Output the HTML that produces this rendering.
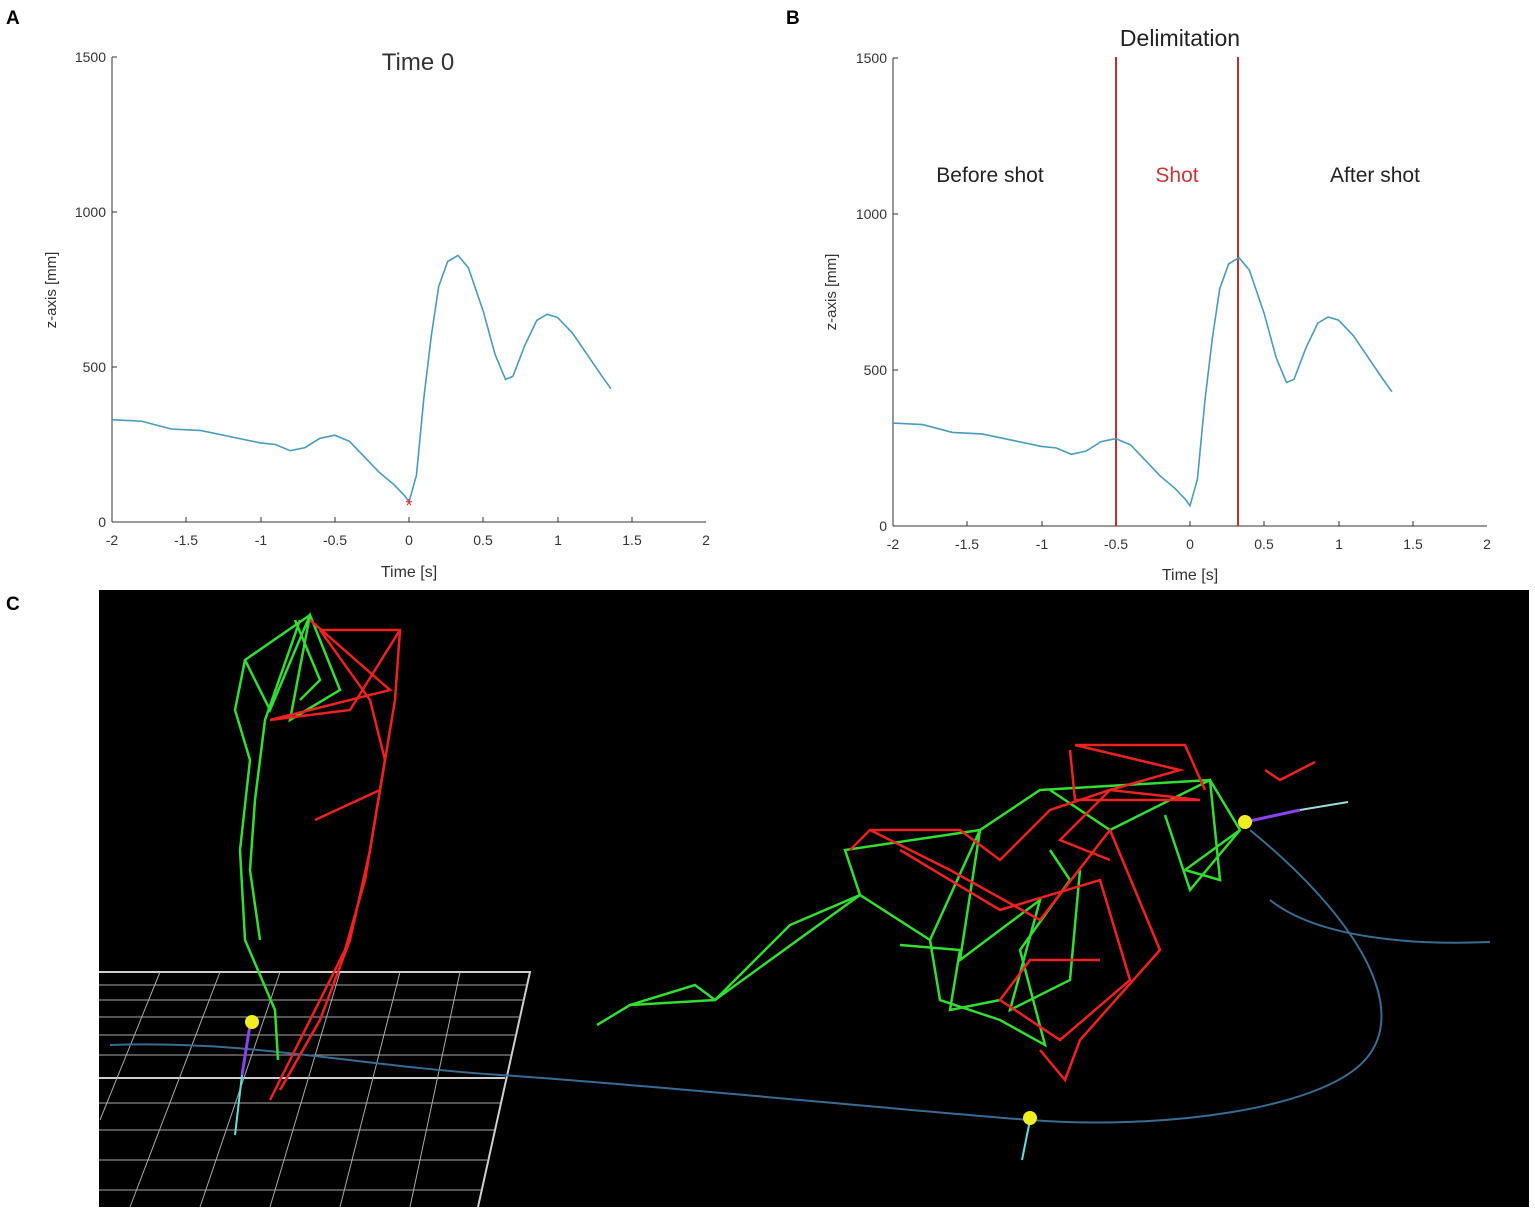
<!DOCTYPE html>
<html><head><meta charset="utf-8"><style>
html,body{margin:0;padding:0;background:#fff;}
svg{display:block;font-family:"Liberation Sans",sans-serif;}
</style></head><body>
<svg width="1535" height="1211" viewBox="0 0 1535 1211">
<rect width="1535" height="1211" fill="#fff"/>
<text x="6" y="24" font-size="19" font-weight="bold">A</text>
<text x="786" y="24" font-size="19" font-weight="bold">B</text>
<text x="6" y="610" font-size="19" font-weight="bold">C</text>

<!-- Panel A -->
<g stroke="#333" stroke-width="1" fill="none">
<line x1="112" y1="57" x2="112" y2="522"/><line x1="112" y1="522" x2="706" y2="522"/>
</g>
<g stroke="#333" stroke-width="1">
<line x1="112" y1="57" x2="117" y2="57"/><line x1="112" y1="212" x2="117" y2="212"/><line x1="112" y1="367" x2="117" y2="367"/>
<line x1="186" y1="522" x2="186" y2="517"/><line x1="261" y1="522" x2="261" y2="517"/><line x1="335" y1="522" x2="335" y2="517"/><line x1="409" y1="522" x2="409" y2="517"/><line x1="483" y1="522" x2="483" y2="517"/><line x1="558" y1="522" x2="558" y2="517"/><line x1="632" y1="522" x2="632" y2="517"/>
</g>
<g font-size="14" fill="#333" text-anchor="end">
<text x="106" y="62">1500</text><text x="106" y="217">1000</text><text x="106" y="372">500</text><text x="106" y="527">0</text>
</g>
<g font-size="14" fill="#333" text-anchor="middle">
<text x="112" y="545">-2</text><text x="186" y="545">-1.5</text><text x="261" y="545">-1</text><text x="335" y="545">-0.5</text><text x="409" y="545">0</text><text x="483" y="545">0.5</text><text x="558" y="545">1</text><text x="632" y="545">1.5</text><text x="706" y="545">2</text>
<text x="409" y="577" font-size="16">Time [s]</text>
<text x="418" y="70" font-size="24">Time 0</text>
</g>
<text transform="translate(56,290) rotate(-90)" font-size="15" fill="#333" text-anchor="middle">z-axis [mm]</text>
<g transform="translate(409,522) scale(148.5,-0.31)">
<polyline fill="none" stroke="#4a9ab8" stroke-width="1.6" vector-effect="non-scaling-stroke" points="-2,330 -1.8,325 -1.6,300 -1.4,295 -1.2,275 -1.0,255 -0.9,250 -0.8,230 -0.7,240 -0.6,270 -0.5,280 -0.4,260 -0.3,210 -0.2,160 -0.1,120 -0.03,85 0,65 0.05,150 0.1,400 0.15,600 0.2,760 0.26,840 0.33,860 0.4,820 0.5,680 0.58,540 0.65,460 0.7,470 0.78,570 0.86,650 0.93,670 1.0,660 1.1,610 1.2,540 1.3,470 1.36,430"/>
</g>
<text x="409" y="512" fill="#e03030" font-size="18" text-anchor="middle">*</text>

<!-- Panel B -->
<g stroke="#333" stroke-width="1" fill="none">
<line x1="893" y1="58" x2="893" y2="526"/><line x1="893" y1="526" x2="1487" y2="526"/>
</g>
<g stroke="#333" stroke-width="1">
<line x1="893" y1="58" x2="898" y2="58"/><line x1="893" y1="214" x2="898" y2="214"/><line x1="893" y1="370" x2="898" y2="370"/>
<line x1="967" y1="526" x2="967" y2="521"/><line x1="1042" y1="526" x2="1042" y2="521"/><line x1="1116" y1="526" x2="1116" y2="521"/><line x1="1190" y1="526" x2="1190" y2="521"/><line x1="1264" y1="526" x2="1264" y2="521"/><line x1="1339" y1="526" x2="1339" y2="521"/><line x1="1413" y1="526" x2="1413" y2="521"/>
</g>
<g font-size="14" fill="#333" text-anchor="end">
<text x="887" y="63">1500</text><text x="887" y="219">1000</text><text x="887" y="375">500</text><text x="887" y="531">0</text>
</g>
<g font-size="14" fill="#333" text-anchor="middle">
<text x="893" y="549">-2</text><text x="967" y="549">-1.5</text><text x="1042" y="549">-1</text><text x="1116" y="549">-0.5</text><text x="1190" y="549">0</text><text x="1264" y="549">0.5</text><text x="1339" y="549">1</text><text x="1413" y="549">1.5</text><text x="1487" y="549">2</text>
<text x="1190" y="580" font-size="16">Time [s]</text>
<text x="1180" y="46" font-size="23" fill="#222">Delimitation</text>
<text x="990" y="182" font-size="21" fill="#222">Before shot</text>
<text x="1177" y="182" font-size="21" fill="#c0393b">Shot</text>
<text x="1375" y="182" font-size="21" fill="#222">After shot</text>
</g>
<text transform="translate(836,292) rotate(-90)" font-size="15" fill="#333" text-anchor="middle">z-axis [mm]</text>
<line x1="1116" y1="57" x2="1116" y2="526" stroke="#c03030" stroke-width="2"/>
<line x1="1238" y1="57" x2="1238" y2="526" stroke="#c03030" stroke-width="2"/>
<g transform="translate(1190,526) scale(148.5,-0.312)">
<polyline fill="none" stroke="#4a9ab8" stroke-width="1.6" vector-effect="non-scaling-stroke" points="-2,330 -1.8,325 -1.6,300 -1.4,295 -1.2,275 -1.0,255 -0.9,250 -0.8,230 -0.7,240 -0.6,270 -0.5,280 -0.4,260 -0.3,210 -0.2,160 -0.1,120 -0.03,85 0,65 0.05,150 0.1,400 0.15,600 0.2,760 0.26,840 0.33,860 0.4,820 0.5,680 0.58,540 0.65,460 0.7,470 0.78,570 0.86,650 0.93,670 1.0,660 1.1,610 1.2,540 1.3,470 1.36,430"/>
</g>

<!-- Panel C -->
<rect x="99" y="590" width="1430" height="617" fill="#000"/>
<g stroke="#cfcfcf" stroke-width="2" fill="none">
<polyline points="99,972 530,972 478,1207"/>
<line x1="99" y1="1078" x2="505" y2="1078"/>
<g stroke-width="1" stroke="#aaa">
<line x1="99" y1="985" x2="527" y2="985"/><line x1="99" y1="1000" x2="524" y2="1000"/><line x1="99" y1="1017" x2="520" y2="1017"/><line x1="99" y1="1035" x2="516" y2="1035"/><line x1="99" y1="1055" x2="511" y2="1055"/><line x1="99" y1="1103" x2="500" y2="1103"/><line x1="99" y1="1130" x2="494" y2="1130"/><line x1="99" y1="1160" x2="487" y2="1160"/><line x1="99" y1="1190" x2="481" y2="1190"/>
<line x1="160" y1="972" x2="100" y2="1120"/><line x1="220" y1="972" x2="130" y2="1207"/><line x1="280" y1="972" x2="200" y2="1207"/><line x1="340" y1="972" x2="270" y2="1207"/><line x1="400" y1="972" x2="340" y2="1207"/><line x1="460" y1="972" x2="410" y2="1207"/>
</g>
</g>
<path d="M110,1045 C250,1040 350,1065 500,1075 S900,1110 1030,1120 S1320,1110 1365,1060 S1360,920 1250,830" fill="none" stroke="#3a6c92" stroke-width="2"/>
<path d="M1270,900 C1320,940 1420,945 1490,942" fill="none" stroke="#3a6c92" stroke-width="2"/>
<!-- left figure -->
<g stroke="#33dd33" stroke-width="2.5" fill="none">
<polyline points="310,615 245,660 235,710 250,760 240,850 245,940 275,1010 278,1060"/>
<polyline points="300,620 265,720 255,800 250,870 260,940"/>
<polyline points="310,615 290,720 340,690 310,615 270,710 245,660"/>
<polyline points="295,620 320,680 300,700"/>
</g>
<g stroke="#ee2222" stroke-width="2.5" fill="none">
<polyline points="320,630 400,630 395,700 380,790 365,880 345,950 300,1040 270,1100"/>
<polyline points="320,630 370,700 385,760 370,850 350,940 320,1020 280,1090"/>
<polyline points="310,620 390,690 270,720 350,710 400,630"/>
<polyline points="380,790 315,820"/>
</g>
<line x1="250" y1="1025" x2="242" y2="1075" stroke="#8844ee" stroke-width="3"/>
<line x1="242" y1="1075" x2="235" y2="1135" stroke="#66dddd" stroke-width="2"/>
<circle cx="252" cy="1022" r="7" fill="#eeee22"/>
<!-- right figures -->
<g stroke="#33dd33" stroke-width="2.5" fill="none">
<polyline points="597,1025 630,1005 715,1000 790,925 860,895 845,850 980,830 1040,790 1210,780 1240,830 1190,890 1165,815"/>
<polyline points="630,1005 695,985 715,1000 860,895 930,940 940,1000 1000,1020 1045,1045 1020,950 1070,880 1050,850"/>
<polyline points="930,940 980,830 960,960 1000,930 1040,900 1010,1010 1070,980 1080,870"/>
<polyline points="1050,790 1110,830 1210,780 1220,880 1185,870 1240,830"/>
<polyline points="900,945 960,950 950,1010 1000,1000"/>
</g>
<g stroke="#ee2222" stroke-width="2.5" fill="none">
<polyline points="850,850 870,830 960,830 1000,860 1050,810 1110,790 1180,770 1075,745 1100,745 1185,745 1205,790"/>
<polyline points="870,830 950,870 1040,920 1110,830 1160,950 1080,1040 1065,1080 1040,1050"/>
<polyline points="900,850 1000,910 1100,880 1130,980 1060,1040 1000,1000 1030,960 1100,960"/>
<polyline points="1070,750 1075,800 1200,800 1110,790 1060,840 1110,860"/>
<polyline points="1265,770 1280,780 1315,762"/>
</g>
<line x1="1245" y1="822" x2="1300" y2="810" stroke="#8844ee" stroke-width="3"/>
<line x1="1300" y1="810" x2="1348" y2="802" stroke="#99dddd" stroke-width="2"/>
<circle cx="1245" cy="822" r="7" fill="#eeee22"/>
<line x1="1030" y1="1120" x2="1022" y2="1160" stroke="#66dddd" stroke-width="2"/>
<circle cx="1030" cy="1118" r="7" fill="#eeee22"/>
</svg>
</body></html>
